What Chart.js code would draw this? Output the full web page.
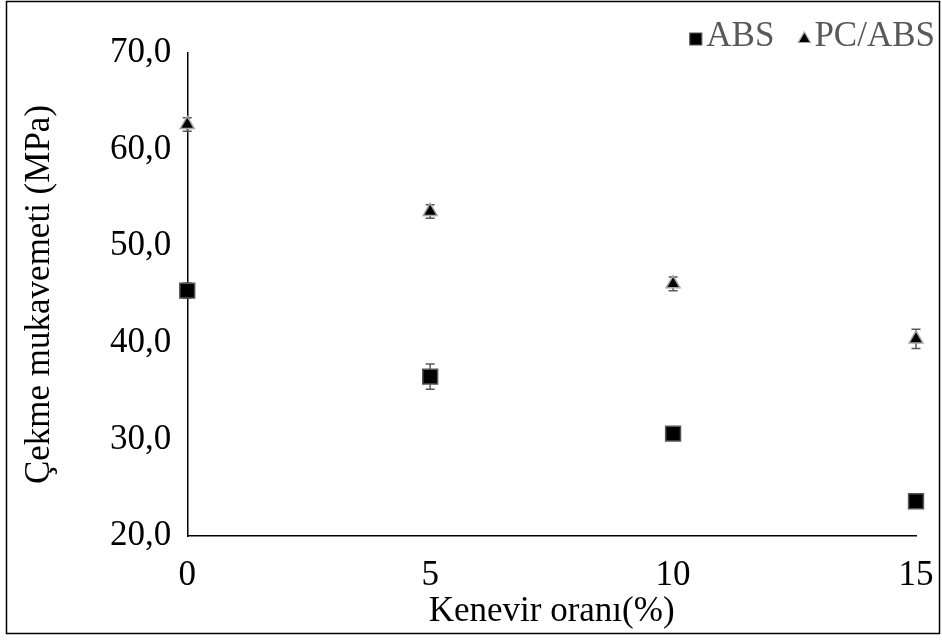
<!DOCTYPE html>
<html>
<head>
<meta charset="utf-8">
<script src="https://cdn.jsdelivr.net/npm/chart.js@4/dist/chart.umd.min.js"></script>
<style>
  html, body { margin: 0; padding: 0; background: #fff; }
  #wrap { width: 942px; height: 641px; }
</style>
</head>
<body>
<div id="wrap"><canvas id="strengthChart" width="942" height="641"></canvas></div>
<script>
// -------- Data --------
const hempRatio = [0, 5, 10, 15];
const absStrength = [45.4, 36.5, 30.6, 23.6];
const absError = [0.8, 1.3, 0.7, 0.7];
const pcAbsStrength = [62.6, 53.6, 46.1, 40.4];
const pcAbsError = [0.7, 0.7, 0.7, 1.0];

const serif = "'Liberation Serif', 'Times New Roman', serif";
const font35 = { family: serif, size: 35, lineHeight: 1 };

function toPoints(xs, ys) {
  return xs.map((x, i) => ({ x: x, y: ys[i] }));
}

// error bars with caps, drawn under the markers
const errorBars = {
  id: 'errorBars',
  beforeDatasetsDraw(chart) {
    const ctx = chart.ctx;
    const yScale = chart.scales.y;
    chart.data.datasets.forEach((ds, i) => {
      const meta = chart.getDatasetMeta(i);
      ctx.save();
      ctx.strokeStyle = ds.errorColor;
      ctx.lineWidth = 1.5;
      meta.data.forEach((pt, j) => {
        const v = ds.data[j].y;
        const e = ds.errors[j];
        const top = yScale.getPixelForValue(v + e);
        const bot = yScale.getPixelForValue(v - e);
        ctx.beginPath();
        ctx.moveTo(pt.x, top);
        ctx.lineTo(pt.x, bot);
        ctx.moveTo(pt.x - 4.5, top);
        ctx.lineTo(pt.x + 4.5, top);
        ctx.moveTo(pt.x - 4.5, bot);
        ctx.lineTo(pt.x + 4.5, bot);
        ctx.stroke();
      });
      ctx.restore();
    });
  }
};

// compact legend in the top right corner, marker close to its label
const cornerLegend = {
  id: 'cornerLegend',
  afterDraw(chart) {
    const ctx = chart.ctx;
    const right = 935, y = 37, gap = 4, between = 24;
    ctx.save();
    ctx.font = "35px " + serif;
    ctx.textBaseline = 'middle';
    ctx.textAlign = 'left';
    const sets = chart.data.datasets;
    const widths = sets.map(ds => ctx.measureText(ds.label).width);
    const markW = [13, 12];
    let total = 0;
    sets.forEach((ds, i) => { total += markW[i] + gap + widths[i]; });
    total += between * (sets.length - 1);
    let x = right - total;
    sets.forEach((ds, i) => {
      ctx.fillStyle = ds.backgroundColor;
      ctx.strokeStyle = ds.borderColor;
      ctx.lineWidth = 1.2;
      Chart.helpers.drawPoint(ctx, {
        pointStyle: ds.pointStyle,
        radius: ds.legendRadius,
        borderWidth: 1.2,
        rotation: 0
      }, x + markW[i] / 2, y + 2);
      x += markW[i] + gap;
      ctx.fillStyle = '#595959';
      ctx.fillText(ds.label, x, y);
      x += widths[i] + between;
    });
    ctx.restore();
  }
};

// thin frame around the whole figure
const frame = {
  id: 'frame',
  afterDraw(chart) {
    const ctx = chart.ctx;
    ctx.save();
    ctx.strokeStyle = '#000';
    ctx.lineWidth = 1.5;
    ctx.strokeRect(6.5, 1.5, 933, 632);
    ctx.restore();
  }
};

new Chart(document.getElementById('strengthChart'), {
  type: 'scatter',
  data: {
    datasets: [
      {
        label: 'ABS',
        data: toPoints(hempRatio, absStrength),
        errors: absError,
        errorColor: '#595959',
        pointStyle: 'rect',
        legendRadius: 8.5,
        pointRadius: 10.5,
        pointHoverRadius: 10.5,
        backgroundColor: '#000',
        borderColor: '#555',
        borderWidth: 1.5,
        clip: false
      },
      {
        label: 'PC/ABS',
        data: toPoints(hempRatio, pcAbsStrength),
        errors: pcAbsError,
        errorColor: '#595959',
        pointStyle: 'triangle',
        legendRadius: 7,
        pointRadius: 8,
        pointHoverRadius: 8,
        backgroundColor: '#000',
        borderColor: '#a6a6a6',
        borderWidth: 1.5,
        clip: false
      }
    ]
  },
  options: {
    responsive: false,
    animation: false,
    layout: { padding: { left: 22, right: 0, top: 53, bottom: 12 } },
    plugins: {
      tooltip: { enabled: false },
      legend: { display: false }
    },
    scales: {
      x: {
        type: 'linear',
        min: 0,
        max: 15,
        // fixed band under the axis for tick labels and title
        afterFit: scale => { scale.paddingRight = 26; scale.height = 93; },
        ticks: {
          stepSize: 5,
          color: '#000',
          padding: 22,
          font: font35
        },
        grid: { display: false, drawTicks: false },
        border: { display: true, color: '#000', width: 1.5 },
        title: {
          display: true,
          text: 'Kenevir oranı(%)',
          color: '#000',
          padding: { top: 0, bottom: 0 },
          font: font35
        }
      },
      y: {
        min: 20,
        max: 70,
        ticks: {
          stepSize: 10,
          color: '#000',
          padding: 16,
          font: font35,
          callback: v => v.toFixed(1).replace('.', ',')
        },
        grid: { display: false, drawTicks: false },
        border: { display: true, color: '#000', width: 1.5 },
        title: {
          display: true,
          text: 'Çekme mukavemeti (MPa)',
          color: '#000',
          padding: { top: 0, bottom: 37 },
          font: font35
        }
      }
    }
  },
  plugins: [errorBars, cornerLegend, frame]
});
</script>
</body>
</html>
